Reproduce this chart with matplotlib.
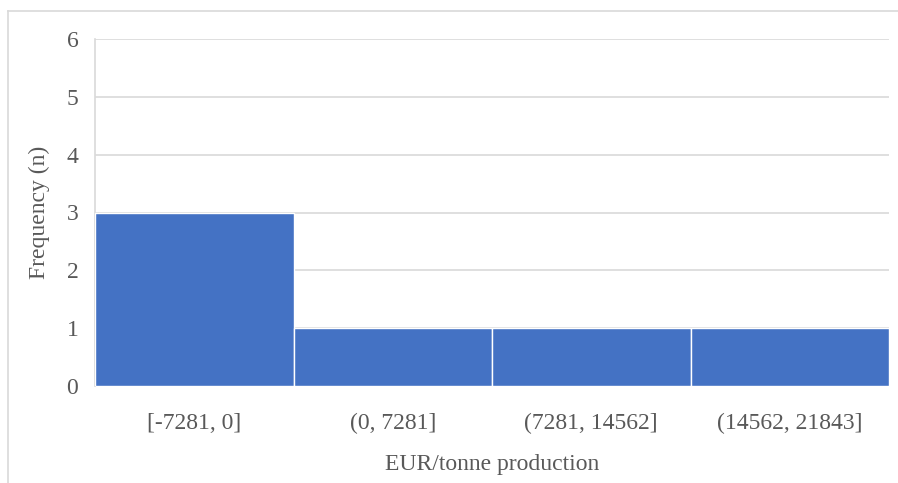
import matplotlib.pyplot as plt
from matplotlib.lines import Line2D

# Histogram bins and counts
bin_labels = ['[-7281, 0]', '(0, 7281]', '(7281, 14562]', '(14562, 21843]']
counts = [3, 1, 1, 1]
y_ticks = [0, 1, 2, 3, 4, 5, 6]

plt.rcParams['font.family'] = ['Liberation Serif', 'DejaVu Serif']
text_color = '#595959'
grid_color = '#d9d9d9'

W, H = 898, 483
fig = plt.figure(figsize=(W / 100, H / 100), dpi=100)

# outer chart border: only top and left edges are visible in the crop
bx, by = 7.5 / W, 1 - 10.5 / H
fig.add_artist(Line2D([bx, 1.0], [by, by], transform=fig.transFigure,
                      color=grid_color, linewidth=1.2))
fig.add_artist(Line2D([bx, bx], [0.0, by], transform=fig.transFigure,
                      color=grid_color, linewidth=1.2))

ax = fig.add_axes([95 / W, 1 - 386 / H, (889 - 95) / W, (386 - 39) / H])

x = range(len(counts))
ax.bar(x, counts, width=1.0, color='#4472C4', edgecolor='white',
       linewidth=1.0, zorder=3)

ax.set_xlim(-0.5, len(counts) - 0.5)
ax.set_ylim(0, 6)
ax.set_yticks(y_ticks)
ax.set_xticks(list(x))
ax.set_xticklabels(bin_labels)
ax.yaxis.grid(True, color=grid_color, linewidth=1.2, zorder=0)
ax.set_axisbelow(True)

for side in ['top', 'right', 'bottom']:
    ax.spines[side].set_visible(False)
ax.spines['left'].set_color(grid_color)
ax.spines['left'].set_linewidth(1.2)

fs = 17
ax.tick_params(axis='both', length=0, labelsize=fs, colors=text_color)
ax.tick_params(axis='x', pad=19.5)
ax.tick_params(axis='y', pad=12)

ax.set_xlabel('EUR/tonne production', fontsize=fs, color=text_color, labelpad=14.5)
ax.set_ylabel('Frequency (n)', fontsize=fs, color=text_color, labelpad=12)

plt.savefig('out.png', dpi=100)
